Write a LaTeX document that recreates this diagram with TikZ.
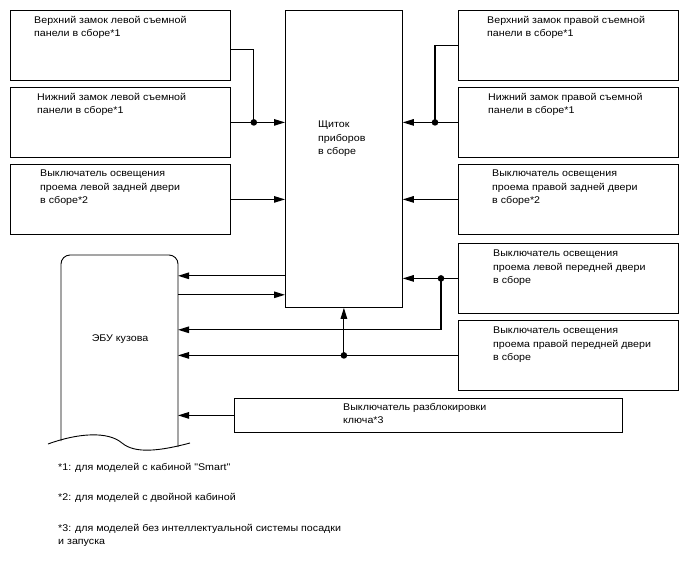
\documentclass[tikz,border=0pt]{standalone}
\usepackage{fontspec}
\setmainfont{Liberation Sans}[FakeStretch=1.1, Ligatures=TeXOff]
\usetikzlibrary{arrows.meta, positioning, calc}
\tikzset{
  blk/.style={draw, line width=0.8pt, minimum width=220, minimum height=70,
              inner sep=0pt, anchor=north west},
  blktext/.style={anchor=north west, align=left, inner sep=0pt},
  wire/.style={line width=1.1pt},
  sig/.style={wire, -{Triangle[length=11pt, width=6.5pt]}},
}
\newcommand{\partbox}[5][]{%
  \node[blk, #1] (#2) at #3 {};
  \node[blktext] (#2t) at ($(#2.north west)+#4$) {#5};
}

\begin{document}
\begin{tikzpicture}[x=1pt, y=-1pt, line join=miter,
          font=\fontsize{9.7}{13.3}\selectfont]
        \useasboundingbox (0,0) rectangle (688,560);
        % left side
        \partbox{L1}{(10,10)}{(24,6)}{Верхний замок левой съемной\\панели в сборе*1}
        \partbox{L2}{(10,87)}{(27,6)}{Нижний замок левой съемной\\панели в сборе*1}
        \partbox{L3}{(10,164)}{(30,6)}{Выключатель освещения\\проема левой задней двери\\в сборе*2}
        % instrument cluster
        \node[blk, minimum width=117, minimum height=297] (cluster) at (285,10) {};
        \node[blktext] (clustert) at ($(cluster.north west)+(33,111)$) {Щиток\\приборов\\в сборе};
        % right side
        \partbox{R1}{(458,10)}{(29,6)}{Верхний замок правой съемной\\панели в сборе*1}
        \partbox{R2}{(458,87)}{(30,6)}{Нижний замок правой съемной\\панели в сборе*1}
        \partbox{R3}{(458,164)}{(34,6)}{Выключатель освещения\\проема правой задней двери\\в сборе*2}
        \partbox{R4}{(458,243)}{(35,7)}{Выключатель освещения\\проема левой передней двери\\в сборе}
        \partbox{R5}{(458,320)}{(35,7)}{Выключатель освещения\\проема правой передней двери\\в сборе}
        \partbox[minimum width=388, minimum height=34]{K}{(234,398)}{(109,5)}{Выключатель разблокировки\\ключа*3}
        % body ECU
        \node[blk, draw=none, minimum width=117, minimum height=186, outer sep=0pt] (ecu) at (61,255) {};
        \draw[line width=0.9pt, rounded corners=9pt]
          (ecu.south west) -- (ecu.north west) -- (ecu.north east) -- ([yshift=-6pt]ecu.south east);
        \draw[line width=0.9pt] (48,444) .. controls (78,433) and (108,431) .. (122,443)
          .. controls (135,454) and (160,451) .. (190,443);
        \node (ecut) at (120,339) {ЭБУ кузова};

        % wiring
        \coordinate (jl) at ($(L2.east)+(23,0)$);
        \coordinate (jr) at ($(R2.west)+(-23,0)$);
        \coordinate (j4) at ($(R4.west)+(-17,0)$);
        \coordinate (j5) at (cluster.south |- R5.west);
        \coordinate (b1) at ($(cluster.south)+(0,22)$);
        \coordinate (c1) at ($(cluster.south west)+(0,-32)$);
        \coordinate (c2) at ($(cluster.south west)+(0,-13)$);
        \draw[wire] ([yshift=-4pt]L1.east) -| (jl);
        \draw[sig] (L2.east) -- (L2.east -| cluster.west);
        \draw[sig] (L3.east) -- (L3.east -| cluster.west);
        \draw[wire] (R1.west) -| (jr);
        \draw[sig] (R2.west) -- (R2.west -| cluster.east);
        \draw[sig] (R3.west) -- (R3.west -| cluster.east);
        \draw[sig] (R4.west) -- (R4.west -| cluster.east);
        \draw[sig] (j4) |- (b1 -| ecu.east);
        \draw[sig] (c1) -- (c1 -| ecu.east);
        \draw[sig] (c2 -| ecu.east) -- (c2);
        \draw[sig] (R5.west) -- (R5.west -| ecu.east);
        \draw[sig] (j5) -- (cluster.south);
        \draw[sig] (K.west) -- (K.west -| ecu.east);
        \foreach \j in {jl, jr, j4, j5} \fill (\j) circle (3.3pt);

        % notes
        \node[blktext] (n1) at (58,463) {*1: для моделей с кабиной "Smart"};
        \node[blktext] (n2) at (58,493) {*2: для моделей с двойной кабиной};
        \node[blktext] (n3) at (58,524) {*3: для моделей без интеллектуальной системы посадки\\и запуска};
      \end{tikzpicture}
\end{document}
